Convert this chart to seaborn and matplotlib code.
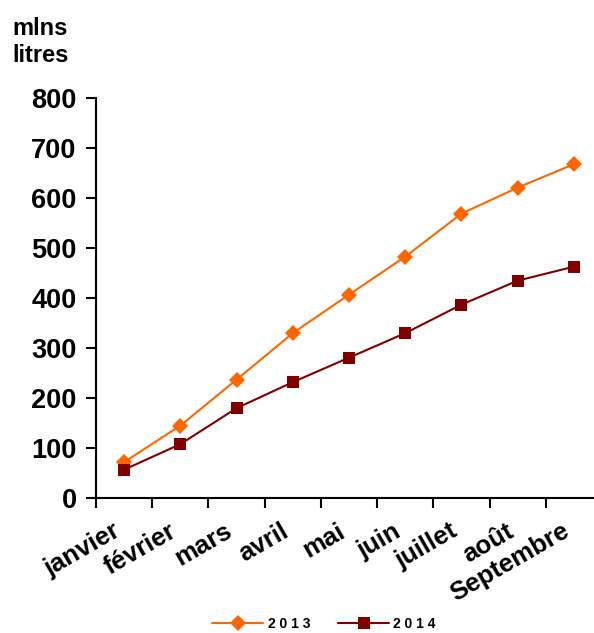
import pandas as pd
import matplotlib
matplotlib.use("Agg")
import matplotlib.pyplot as plt
import matplotlib.transforms as mtransforms
import seaborn as sns

# Monthly cumulative volumes (millions of litres)
months = ["janvier", "février", "mars", "avril", "mai", "juin", "juillet", "août", "Septembre"]
vol_2013 = [72, 145, 237, 330, 407, 483, 569, 621, 668]
vol_2014 = [57, 108, 180, 232, 281, 330, 387, 435, 463]
years = ["2 0 1 3", "2 0 1 4"]

sns.set_style("ticks")
plt.rcParams["font.family"] = ["Liberation Sans", "DejaVu Sans"]
plt.rcParams["font.weight"] = "bold"
plt.rcParams["text.color"] = "black"
plt.rcParams["xtick.color"] = "black"
plt.rcParams["ytick.color"] = "black"

df = pd.DataFrame({
    "pos": list(range(len(months))) * 2,
    "value": vol_2013 + vol_2014,
    "year": [years[0]] * len(months) + [years[1]] * len(months),
})

fig = plt.figure(figsize=(5.94, 6.33), dpi=100)
ax = fig.add_axes([0.1616, 0.213, 0.852, 0.632])

sns.lineplot(data=df, x="pos", y="value", hue="year", style="year",
             palette={years[0]: "#FF6600", years[1]: "#800000"},
             markers={years[0]: "D", years[1]: "s"}, dashes=False,
             markersize=8, linewidth=1.5, markeredgewidth=0, ax=ax)

ax.set_xlim(-0.5, len(months) - 0.5)
ax.set_ylim(0, 800)
ax.set_yticks(range(0, 801, 100))
ax.tick_params(axis="y", labelsize=19.5, length=7, width=1.5, direction="out", pad=7)
for lbl in ax.get_yticklabels():
    lbl.set_fontweight("bold")

# ticks at category boundaries, labels centred
ax.set_xticks([i - 0.5 for i in range(len(months))])
ax.set_xticklabels([])
ax.tick_params(axis="x", which="major", length=7, width=1.5, direction="out")
ax.set_xticks(range(len(months)), minor=True)
ax.set_xticklabels(months, minor=True, rotation=30, ha="right", va="top",
                   rotation_mode="anchor", fontsize=18.5, fontweight="bold")
ax.tick_params(axis="x", which="minor", length=0, pad=15)
shift = mtransforms.ScaledTranslation(-12 / 100, 0, fig.dpi_scale_trans)
for lbl in ax.get_xticklabels(minor=True):
    lbl.set_transform(lbl.get_transform() + shift)

ax.set_xlabel("")
ax.set_ylabel("")
sns.despine(ax=ax)
ax.spines["left"].set_linewidth(1.5)
ax.spines["bottom"].set_linewidth(1.5)
ax.spines["left"].set_color("black")
ax.spines["bottom"].set_color("black")

fig.text(12 / 594, 1 - 35 / 633, "mlns", fontsize=17, fontweight="bold",
         va="baseline", ha="left")
fig.text(12 / 594, 1 - 62 / 633, "litres", fontsize=17, fontweight="bold",
         va="baseline", ha="left")

handles, labels = ax.get_legend_handles_labels()
ax.legend(handles, labels, loc="center", bbox_to_anchor=(324 / 594, 1 - 624 / 633),
          bbox_transform=fig.transFigure, ncol=2, frameon=False,
          prop={"size": 10, "weight": "bold"}, handlelength=3.7,
          columnspacing=2.0, handletextpad=0.3)

fig.savefig("out.png", dpi=100)
